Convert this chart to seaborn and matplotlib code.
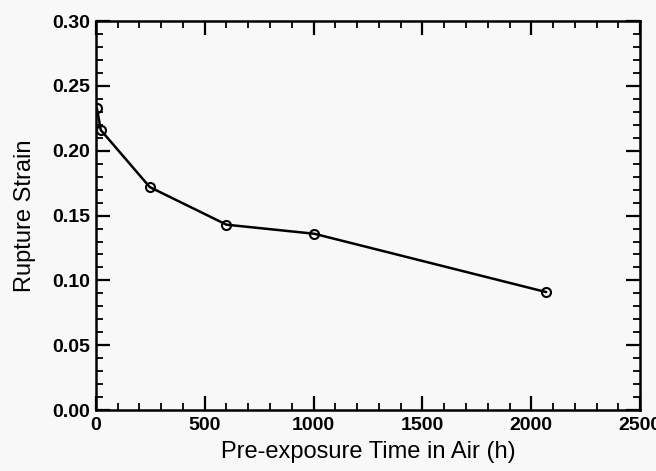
import numpy as np
import pandas as pd
import matplotlib
matplotlib.use("Agg")
import matplotlib.pyplot as plt
import seaborn as sns
from matplotlib.ticker import MultipleLocator

# data
time_h = [5, 23, 248, 600, 1003, 2068]
rupture_strain = [0.233, 0.216, 0.172, 0.143, 0.136, 0.091]

sns.set_theme(style="ticks")
plt.rcParams['font.family'] = ['Liberation Sans', 'DejaVu Sans']
plt.rcParams['text.color'] = 'black'
plt.rcParams['axes.labelcolor'] = 'black'
plt.rcParams['xtick.labelcolor'] = 'black'
plt.rcParams['ytick.labelcolor'] = 'black'

df = pd.DataFrame({'time': time_h, 'strain': rupture_strain})

fig = plt.figure(figsize=(6.56, 4.71), dpi=100, facecolor='#f8f8f8')
ax = fig.add_axes([0.146, 0.1295, 0.83, 0.8255])
ax.set_facecolor('#f8f8f8')

sns.lineplot(data=df, x='time', y='strain', ax=ax, color='black', lw=1.8,
             marker='o', markersize=6.5, markerfacecolor='none',
             markeredgecolor='black', markeredgewidth=1.5)

ax.set_xlim(0, 2500)
ax.set_ylim(0, 0.30)
ax.xaxis.set_major_locator(MultipleLocator(500))
ax.xaxis.set_minor_locator(MultipleLocator(100))
ax.yaxis.set_major_locator(MultipleLocator(0.05))
ax.yaxis.set_minor_locator(MultipleLocator(0.01))
ax.yaxis.set_major_formatter(plt.FuncFormatter(lambda v, p: f"{v:.2f}"))

ax.tick_params(which='both', direction='in', top=True, right=True, color='black',
               labelcolor='black')
ax.tick_params(which='major', length=10, width=1.6, labelsize=14)
ax.tick_params(axis='x', which='major', pad=5)
ax.tick_params(axis='y', which='major', pad=4)
ax.tick_params(which='minor', length=5, width=1.3)
for lab in ax.get_xticklabels() + ax.get_yticklabels():
    lab.set_fontweight('bold')

for s in ax.spines.values():
    s.set_linewidth(1.8)
    s.set_color('black')

ax.set_xlabel('Pre-exposure Time in Air (h)', fontsize=17, labelpad=5)
ax.set_ylabel('Rupture Strain', fontsize=17, labelpad=12)

fig.savefig('out.png', dpi=100, facecolor=fig.get_facecolor())
